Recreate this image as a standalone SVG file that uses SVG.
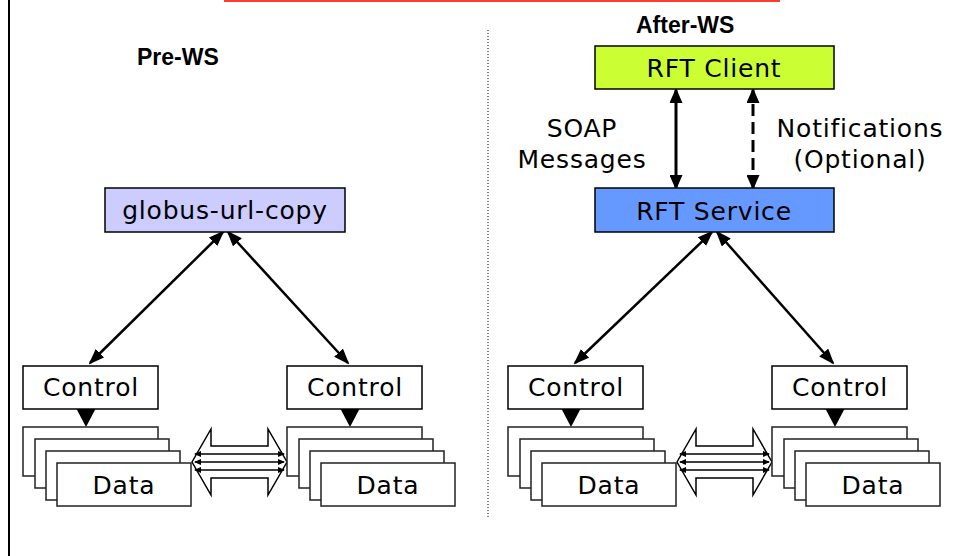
<svg xmlns="http://www.w3.org/2000/svg" width="954" height="556" viewBox="0 0 954 556">
<style>
.t{font-family:"DejaVu Sans",Verdana,sans-serif;font-size:25px;letter-spacing:0.8px;text-anchor:middle;fill:#000}
.h{font-family:"Liberation Sans",Arial,sans-serif;font-size:23px;font-weight:bold;fill:#000}
.box{stroke:#000;stroke-width:1.5}
.w{fill:#fff;stroke:#222;stroke-width:1.5}
.diag{stroke:#000;stroke-width:2.5;fill:none;marker-start:url(#ah);marker-end:url(#ah)}
.vert{stroke:#000;stroke-width:3;fill:none;marker-start:url(#av);marker-end:url(#av)}
.thin{stroke:#000;stroke-width:1.3;fill:none;marker-start:url(#at);marker-end:url(#at)}
.blk{fill:#fff;stroke:#000;stroke-width:1.5;stroke-linejoin:miter}
</style>
<defs>
<marker id="ah" viewBox="0 0 16 12" refX="14" refY="6" markerWidth="16" markerHeight="12" markerUnits="userSpaceOnUse" orient="auto-start-reverse">
<path d="M0,0 L16,6 L0,12 z" fill="#000"/>
</marker>
<marker id="av" viewBox="0 0 15 13" refX="13" refY="6.5" markerWidth="15" markerHeight="13" markerUnits="userSpaceOnUse" orient="auto-start-reverse">
<path d="M0,0 L15,6.5 L0,13 z" fill="#000"/>
</marker>
<marker id="at" viewBox="0 0 7 6" refX="6" refY="3" markerWidth="7" markerHeight="6" markerUnits="userSpaceOnUse" orient="auto-start-reverse">
<path d="M0,0 L7,3 L0,6 z" fill="#000"/>
</marker>
<g id="stack">
<rect class="w" x="23" y="427" width="135" height="49"/>
<rect class="w" x="35" y="439" width="134" height="49"/>
<rect class="w" x="46" y="451" width="134" height="49"/>
<rect class="w" x="57" y="463" width="134" height="43"/>
<text class="t" x="124" y="494">Data</text>
</g>
<g id="ctrl">
<rect class="w" x="23" y="366" width="135" height="43" style="stroke:#000"/>
<text class="t" x="91" y="396">Control</text>
</g>
<g id="down">
<rect x="83" y="402" width="6" height="9" fill="#000"/>
<path d="M76,408 L96,408 L86,427 z" fill="#000"/>
</g>
<g id="blockarrow">
<path class="blk" d="M192,462 L211,429 L211,446 L268,446 L268,429 L287,462 L268,495 L268,478 L211,478 L211,495 z"/>
<line class="thin" x1="195" y1="454" x2="284" y2="454"/>
<line class="thin" x1="195" y1="462" x2="284" y2="462"/>
<line class="thin" x1="195" y1="470" x2="284" y2="470"/>
</g>
</defs>

<g id="frame">
<line x1="9" y1="0" x2="9" y2="556" stroke="#000" stroke-width="2"/>
<line x1="224" y1="1" x2="780" y2="1" stroke="#ff3b2f" stroke-width="2"/>
<line x1="488" y1="30" x2="488" y2="518" stroke="#000" stroke-width="1" stroke-dasharray="1,2"/>
</g>

<g id="titles">
<text class="h" x="137" y="65">Pre-WS</text>
<text class="h" x="636" y="33">After-WS</text>
</g>

<g id="connectors">
<line class="diag" x1="223" y1="232" x2="90" y2="363"/>
<line class="diag" x1="228" y1="232" x2="348" y2="363"/>
<line class="diag" x1="712" y1="232" x2="575" y2="363"/>
<line class="diag" x1="717" y1="232" x2="833" y2="363"/>
<line class="vert" x1="676" y1="90" x2="676" y2="188"/>
<line class="vert" x1="753" y1="90" x2="753" y2="188" stroke-dasharray="12,6" stroke-dashoffset="-14"/>
<use href="#down"/>
<use href="#down" transform="translate(264,0)"/>
<use href="#down" transform="translate(485,0)"/>
<use href="#down" transform="translate(749,0)"/>
<use href="#blockarrow"/>
<use href="#blockarrow" transform="translate(485,0)"/>
</g>

<g id="globus-url-copy">
<rect class="box" x="105" y="188" width="240" height="44" fill="#ccccff"/>
<text class="t" x="225" y="219">globus-url-copy</text>
</g>

<g id="rft-client">
<rect class="box" x="595" y="46" width="239" height="43" fill="#ccff33"/>
<text class="t" x="714" y="77">RFT Client</text>
</g>

<g id="rft-service">
<rect class="box" x="595" y="188" width="239" height="44" fill="#6699ff"/>
<text class="t" x="714" y="220">RFT Service</text>
</g>

<g id="labels">
<text class="t" x="582" y="137">SOAP</text>
<text class="t" x="582" y="168">Messages</text>
<text class="t" x="860" y="137">Notifications</text>
<text class="t" x="860" y="168">(Optional)</text>
</g>

<g id="pre-left-control"><use href="#ctrl"/></g>
<g id="pre-right-control"><use href="#ctrl" transform="translate(264,0)"/></g>
<g id="after-left-control"><use href="#ctrl" transform="translate(485,0)"/></g>
<g id="after-right-control"><use href="#ctrl" transform="translate(749,0)"/></g>

<g id="pre-left-data"><use href="#stack"/></g>
<g id="pre-right-data"><use href="#stack" transform="translate(264,0)"/></g>
<g id="after-left-data"><use href="#stack" transform="translate(485,0)"/></g>
<g id="after-right-data"><use href="#stack" transform="translate(749,0)"/></g>
</svg>
